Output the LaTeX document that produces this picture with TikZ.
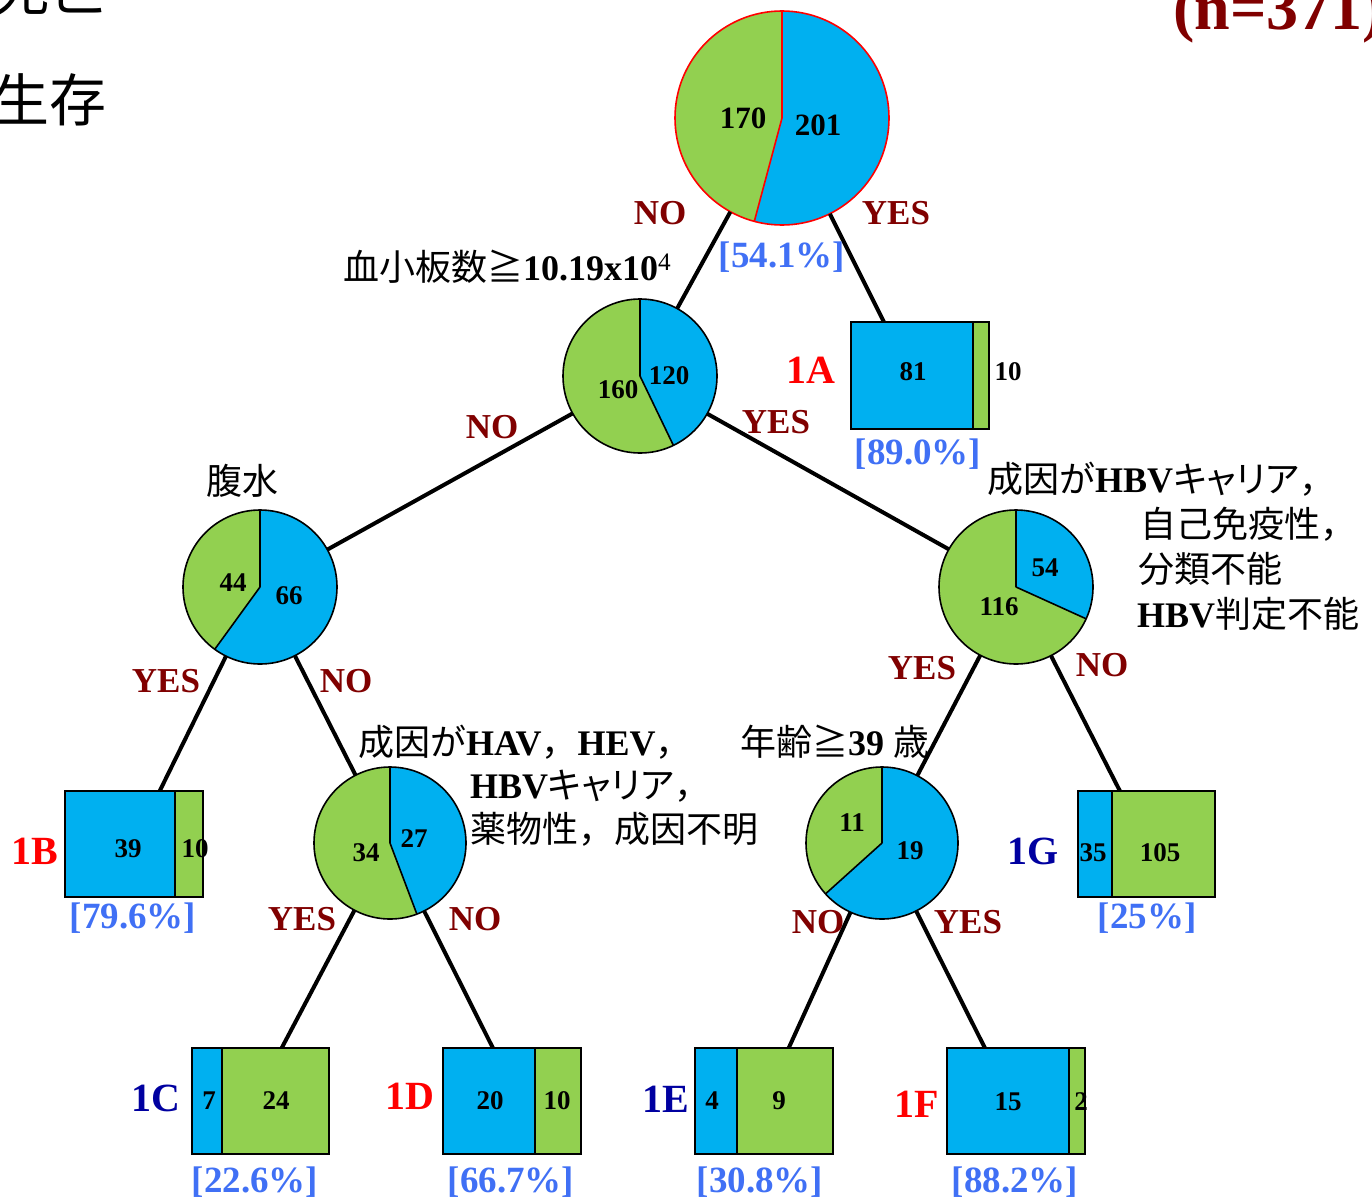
\documentclass[tikz,border=0pt]{standalone}
\usepackage{fontspec}
\setmainfont{Liberation Serif}
\newfontfamily\jp{Noto Sans CJK JP}
\newfontfamily\jpk[RawFeature=+palt]{Noto Sans CJK JP}
\usetikzlibrary{fit}
\definecolor{cblue}{RGB}{0,176,240}
\definecolor{cgreen}{RGB}{146,208,80}
\definecolor{dred}{RGB}{128,0,0}
\definecolor{pblue}{RGB}{64,112,245}
\definecolor{dblue}{RGB}{0,0,160}
\definecolor{lred}{RGB}{255,0,0}
\newcommand\fs[1]{\fontsize{#1}{#1}\selectfont}
% #1 name, #2 x, #3 y, #4 r, #5 blue degrees, #6 outline colour
\newcommand\piechart[6]{%
  \fill[cgreen] (#2,#3) circle[radius=#4];
  \fill[cblue] (#2,#3) -- ++(-90:#4) arc[start angle=-90, end angle={-90+#5}, radius=#4] -- cycle;
  \draw[#6, line width=1.6] (#2,#3) -- ++(-90:#4) (#2,#3) -- ++({-90+#5}:#4);
  \draw[#6, line width=1.6] (#2,#3) circle[radius=#4];
  \node[circle, inner sep=0, minimum size={2*#4pt}] (#1) at (#2,#3) {};
}
% #1 name, #2 x1, #3 y1, #4 xsplit, #5 x2, #6 y2
\newcommand\leafbox[6]{%
  \fill[cblue] (#2,#3) rectangle (#4,#6);
  \fill[cgreen] (#4,#3) rectangle (#5,#6);
  \draw[line width=2] (#4,#3) -- (#4,#6);
  \draw[line width=2] (#2,#3) rectangle (#5,#6);
  \node[fit={(#2,#3) (#5,#6)}, inner sep=0] (#1) {};
}
\begin{document}
\begin{tikzpicture}[x=1pt,y=-1pt,
  conn/.style={line width=4},
  yn/.style={text=dred, font=\bfseries\fs{35}, inner sep=0},
  pct/.style={text=pblue, font=\bfseries\fs{37}, inner sep=0},
  num/.style={font=\bfseries\fs{27}, inner sep=0},
  bnum/.style={font=\bfseries\fs{31}, inner sep=0},
  leafr/.style={text=lred, font=\bfseries\fs{40}, inner sep=0},
  leafb/.style={text=dblue, font=\bfseries\fs{40}, inner sep=0},
  jtxt/.style={font=\fs{36}, inner sep=0, anchor=base west},
]
\useasboundingbox (0,0) rectangle (1372,1199);
\clip (0,0) rectangle (1372,1199);

% legend (cut by the frame)
\node[font=\jp\fs{57}, inner sep=0, anchor=base west] (lgd) at (-8,11) {死亡};
\node[font=\jp\fs{57}, inner sep=0, anchor=base west] (lgs) at (-8,121) {生存};
\node[text=dred, font=\bfseries\fs{64}, inner sep=0, anchor=base west] (ntot) at (1173,30) {(n=371)};

% pies
\piechart{p0}{782}{118}{107}{195.0}{lred}
\piechart{p1}{640}{376}{77}{154.3}{black}
\piechart{p2}{260}{587}{77}{216}{black}
\piechart{p3}{1016}{587}{77}{114.4}{black}
\piechart{p4}{390}{843}{76}{159.3}{black}
\piechart{p5}{882}{843}{76}{228}{black}

% leaves
\leafbox{bA}{851}{322}{973}{989}{429}
\leafbox{bB}{65}{791}{175}{203}{897}
\leafbox{bC}{192}{1048}{222}{329}{1154}
\leafbox{bD}{443}{1048}{535}{581}{1154}
\leafbox{bE}{695}{1048}{737}{833}{1154}
\leafbox{bF}{947}{1048}{1069}{1085}{1154}
\leafbox{bG}{1078}{791}{1112}{1215}{897}

% connectors
\draw[conn] (p0) -- (p1);
\draw[conn] (p0) -- ([xshift=33pt]bA.north west);
\draw[conn] (p1) -- (p2);
\draw[conn] (p1) -- (p3);
\draw[conn] (p2) -- ([xshift=95pt]bB.north west);
\draw[conn] (p2) -- (p4);
\draw[conn] (p3) -- (p5);
\draw[conn] (p3) -- ([xshift=42pt]bG.north west);
\draw[conn] (p4) -- ([xshift=90pt]bC.north west);
\draw[conn] (p4) -- ([xshift=50pt]bD.north west);
\draw[conn] (p5) -- ([xshift=94pt]bE.north west);
\draw[conn] (p5) -- ([xshift=38pt]bF.north west);

% pie numbers
\node[bnum] (t170) at (743,118) {170};
\node[bnum] (t201) at (818,125) {201};
\node[num] (t160) at (618,390) {160};
\node[num] (t120) at (669,376) {120};
\node[num] (t44) at (233,583) {44};
\node[num] (t66) at (289,596) {66};
\node[num] (t54) at (1045,568) {54};
\node[num] (t116) at (999,607) {116};
\node[num] (t34) at (366,853) {34};
\node[num] (t27) at (414,839) {27};
\node[num] (t11) at (852,823) {11};
\node[num] (t19) at (910,851) {19};

% box numbers
\node[num] (a81) at (913,372) {81};
\node[num] (a10) at (1008,372) {10};
\node[num] (b39) at (128,849) {39};
\node[num] (b10) at (195,849) {10};
\node[num] (c7) at (209,1101) {7};
\node[num] (c24) at (276,1101) {24};
\node[num] (d20) at (490,1101) {20};
\node[num] (d10) at (557,1101) {10};
\node[num] (e4) at (712,1101) {4};
\node[num] (e9) at (779,1101) {9};
\node[num] (f15) at (1008,1102) {15};
\node[num] (f2) at (1081,1102) {2};
\node[num] (g35) at (1093,853) {35};
\node[num] (g105) at (1160,853) {105};

% leaf labels
\node[leafr] (lA) at (811,370) {1A};
\node[leafr] (lB) at (35,851) {1B};
\node[leafb] (lC) at (156,1098) {1C};
\node[leafr] (lD) at (410,1096) {1D};
\node[leafb] (lE) at (666,1099) {1E};
\node[leafr] (lF) at (917,1104) {1F};
\node[leafb] (lG) at (1033,851) {1G};

% percentages
\node[pct] (c0) at (782,257) {[54.1\%]};
\node[pct] (cA) at (918,454) {[89.0\%]};
\node[pct] (cB) at (133,918) {[79.6\%]};
\node[pct] (cC) at (255,1182) {[22.6\%]};
\node[pct] (cD) at (511,1182) {[66.7\%]};
\node[pct] (cE) at (760,1182) {[30.8\%]};
\node[pct] (cF) at (1015,1182) {[88.2\%]};
\node[pct] (cG) at (1147,918) {[25\%]};

% YES / NO
\node[yn] (n0) at (660,213) {NO};
\node[yn] (y0) at (896,213) {YES};
\node[yn] (n1) at (492,427) {NO};
\node[yn] (y1) at (776,422) {YES};
\node[yn] (y2) at (166,681) {YES};
\node[yn] (n2) at (346,681) {NO};
\node[yn] (y3) at (922,668) {YES};
\node[yn] (n3) at (1102,665) {NO};
\node[yn] (y4) at (302,919) {YES};
\node[yn] (n4) at (475,919) {NO};
\node[yn] (n5) at (818,922) {NO};
\node[yn] (y5) at (968,922) {YES};

% split conditions
\node[jtxt] (q1) at (343,280) {{\jp 血小板数≧}\textbf{10.19x10}\textsuperscript{4}};
\node[jtxt, anchor=base] (q2) at (242,494) {\jp 腹水};
\node[jtxt] (q3a) at (987,492) {{\jp 成因が}\textbf{HBV}{\jpk キャリア}{\jp ，}};
\node[jtxt] (q3b) at (1140,537) {\jp 自己免疫性，};
\node[jtxt] (q3c) at (1138,582) {\jp 分類不能};
\node[jtxt] (q3d) at (1137,627) {\textbf{HBV}{\jp 判定不能}};
\node[jtxt] (q4a) at (358,755) {{\jp 成因が}\textbf{HAV}{\jp ，}\textbf{HEV}{\jp ，}};
\node[jtxt] (q4b) at (470,798) {\textbf{HBV}{\jpk キャリア}{\jp ，}};
\node[jtxt] (q4c) at (470,842) {\jp 薬物性，成因不明};
\node[jtxt] (q5) at (740,755) {{\jp 年齢≧}\textbf{39} {\jp 歳}};
\end{tikzpicture}
\end{document}
